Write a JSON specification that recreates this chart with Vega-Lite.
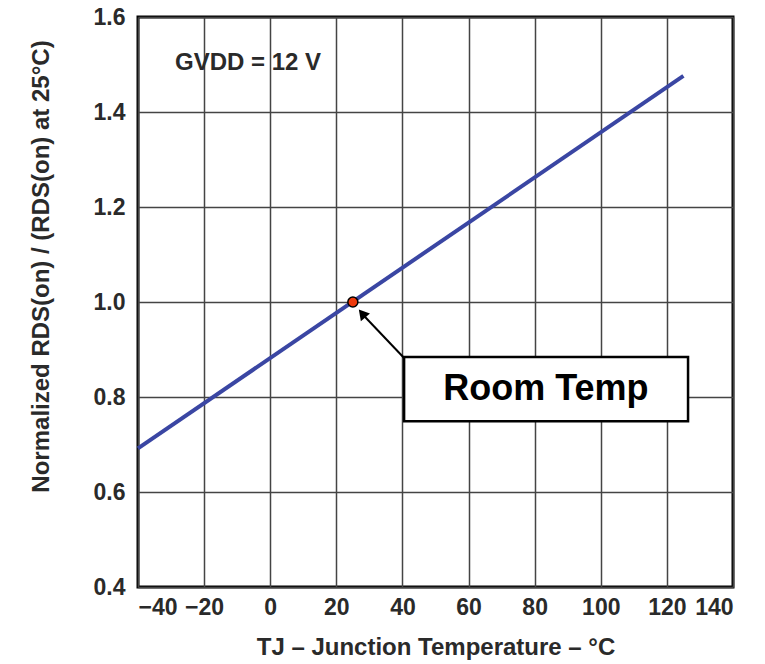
{
  "$schema": "https://vega.github.io/schema/vega-lite/v6.json",
  "autosize": "none",
  "width": 595,
  "height": 570,
  "padding": {"left": 138, "top": 17, "right": 32, "bottom": 77},
  "background": "white",
  "config": {
    "view": {"stroke": "black", "strokeWidth": 3},
    "font": "Liberation Sans",
    "axis": {
      "labelFont": "Liberation Sans",
      "titleFont": "Liberation Sans",
      "labelFontWeight": "bold",
      "titleFontWeight": "bold",
      "labelFontSize": 23,
      "titleFontSize": 24,
      "labelColor": "#2a2a2a",
      "titleColor": "#2a2a2a",
      "domain": false,
      "ticks": false,
      "gridColor": "#444444",
      "gridWidth": 1.5,
      "gridOpacity": 1
    }
  },
  "datasets": {
    "curve": [
      {"temp": -40, "ratio": 0.692},
      {"temp": 125, "ratio": 1.476}
    ],
    "point": [{"temp": 25, "ratio": 1.0}],
    "box": [{"x1": 40.5, "x2": 126.4, "y1": 0.749, "y2": 0.884, "label": "Room Temp", "xc": 83.4, "yc": 0.816}],
    "arrow": [{"x1": 40.5, "y1": 0.882, "x2": 28.2, "y2": 0.972}],
    "head": [{"x": 27.8, "y": 0.976}],
    "note": [{"x": -6.7, "y": 1.503, "label": "GVDD = 12 V"}]
  },
  "layer": [
    {
      "data": {"name": "curve"},
      "mark": {"type": "line", "color": "#3a46a3", "strokeWidth": 4},
      "encoding": {
        "x": {
          "field": "temp", "type": "quantitative",
          "scale": {"domain": [-40, 140], "nice": false, "zero": false},
          "axis": {"values": [-40, -20, 0, 20, 40, 60, 80, 100, 120, 140], "labelPadding": 9, "title": "TJ – Junction Temperature – °C", "titlePadding": 16}
        },
        "y": {
          "field": "ratio", "type": "quantitative",
          "scale": {"domain": [0.4, 1.6], "nice": false, "zero": false},
          "axis": {"values": [0.4, 0.6, 0.8, 1.0, 1.2, 1.4, 1.6], "format": ".1f", "labelPadding": 13, "title": "Normalized RDS(on) / (RDS(on) at 25°C)", "titlePadding": 40, "titleY": 249}
        }
      }
    },
    {
      "data": {"name": "arrow"},
      "mark": {"type": "rule", "color": "black", "strokeWidth": 2},
      "encoding": {
        "x": {"field": "x1", "type": "quantitative"},
        "y": {"field": "y1", "type": "quantitative"},
        "x2": {"field": "x2"},
        "y2": {"field": "y2"}
      }
    },
    {
      "data": {"name": "head"},
      "mark": {"type": "point", "shape": "triangle-up", "filled": true, "color": "black", "size": 140, "angle": 320, "opacity": 1},
      "encoding": {
        "x": {"field": "x", "type": "quantitative"},
        "y": {"field": "y", "type": "quantitative"}
      }
    },
    {
      "data": {"name": "point"},
      "mark": {"type": "point", "shape": "circle", "filled": true, "fill": "#ee3a0c", "stroke": "black", "strokeWidth": 1.5, "size": 100, "opacity": 1},
      "encoding": {
        "x": {"field": "temp", "type": "quantitative"},
        "y": {"field": "ratio", "type": "quantitative"}
      }
    },
    {
      "data": {"name": "box"},
      "mark": {"type": "rect", "fill": "white", "stroke": "black", "strokeWidth": 2.5},
      "encoding": {
        "x": {"field": "x1", "type": "quantitative"},
        "x2": {"field": "x2"},
        "y": {"field": "y1", "type": "quantitative"},
        "y2": {"field": "y2"}
      }
    },
    {
      "data": {"name": "box"},
      "mark": {"type": "text", "font": "Liberation Sans", "fontWeight": "bold", "fontSize": 36, "color": "black", "align": "center", "baseline": "middle"},
      "encoding": {
        "x": {"field": "xc", "type": "quantitative"},
        "y": {"field": "yc", "type": "quantitative"},
        "text": {"field": "label"}
      }
    },
    {
      "data": {"name": "note"},
      "mark": {"type": "text", "font": "Liberation Sans", "fontWeight": "bold", "fontSize": 24, "color": "#2a2a2a", "align": "center", "baseline": "middle"},
      "encoding": {
        "x": {"field": "x", "type": "quantitative"},
        "y": {"field": "y", "type": "quantitative"},
        "text": {"field": "label"}
      }
    }
  ]
}
